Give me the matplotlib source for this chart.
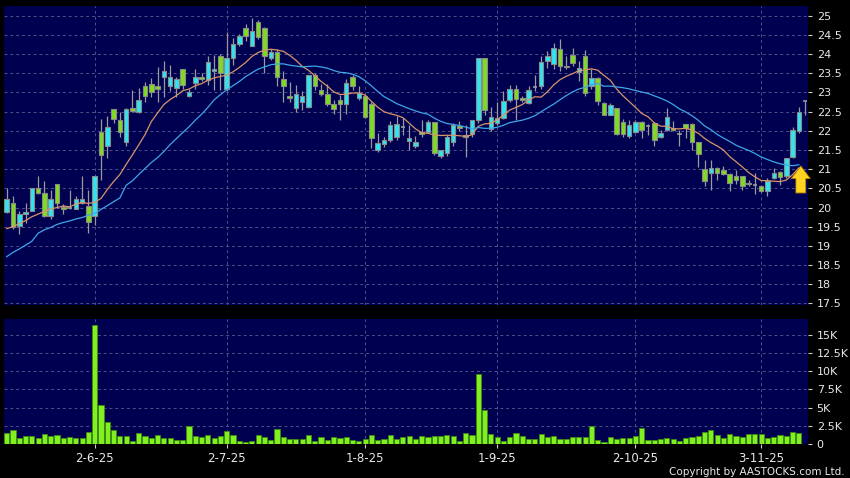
import numpy as np
import pandas as pd
import matplotlib
matplotlib.use("Agg")
import matplotlib.pyplot as plt

# daily OHLC (index 0 = first bar on the left)
opens = [19.88, 20.11, 19.52, 19.83, 19.92, 20.50, 20.39, 19.78, 20.60, 20.01,
         20.00, 19.97, 20.13, 20.04, 19.77, 21.98, 21.59, 22.57, 22.29, 21.70,
         22.60, 22.50, 23.17, 23.23, 23.17, 23.40, 23.17, 23.11, 23.61, 22.91,
         23.24, 23.39, 23.31, 23.56, 23.94, 23.10, 23.90, 24.26, 24.68, 24.22,
         24.84, 24.68, 23.90, 24.04, 23.35, 22.91, 22.59, 22.76, 22.63, 23.45,
         23.07, 22.96, 22.70, 22.81, 22.70, 23.40, 22.85, 22.91, 22.70, 21.50,
         21.65, 21.76, 21.83, 22.10, 21.74, 21.61, 21.98, 21.97, 22.22, 21.33,
         21.42, 21.70, 22.13, 21.83, 21.91, 22.29, 23.89, 22.04, 22.20, 22.33,
         22.79, 23.10, 22.85, 22.72, 23.15, 23.16, 23.81, 23.75, 24.13, 23.70,
         23.98, 23.52, 23.94, 23.16, 23.37, 22.72, 22.42, 22.59, 22.22, 21.87,
         21.98, 22.24, 22.13, 22.20, 21.83, 22.03, 22.07, 21.91, 22.18, 22.18,
         21.70, 21.00, 20.90, 21.04, 20.97, 20.87, 20.81, 20.81, 20.64, 20.58,
         20.55, 20.42, 20.77, 20.92, 20.81, 21.31, 22.00, 22.78]
highs = [20.50, 20.29, 19.90, 20.13, 20.50, 20.83, 20.70, 20.46, 20.62, 20.10,
         20.45, 20.30, 20.81, 20.46, 20.83, 22.31, 22.39, 22.57, 22.50, 22.60,
         23.07, 23.11, 23.26, 23.37, 23.66, 23.81, 23.72, 23.40, 23.61, 23.08,
         23.61, 23.50, 23.96, 23.98, 24.00, 24.57, 24.42, 24.52, 24.77, 24.94,
         24.89, 24.70, 24.13, 24.13, 23.57, 23.26, 23.20, 23.03, 23.45, 23.50,
         23.23, 23.23, 22.81, 22.94, 23.35, 23.45, 23.17, 22.95, 22.75, 21.94,
         21.85, 22.25, 22.39, 22.33, 22.16, 21.87, 22.28, 22.28, 22.24, 21.50,
         21.90, 22.20, 22.26, 22.16, 22.28, 23.90, 23.90, 22.63, 22.76, 23.03,
         23.20, 23.20, 22.90, 23.16, 23.46, 23.94, 24.07, 24.29, 24.39, 23.96,
         24.16, 23.81, 24.11, 23.61, 23.40, 22.75, 22.72, 22.60, 22.30, 22.29,
         22.29, 22.26, 22.18, 22.22, 22.03, 22.59, 22.25, 22.03, 22.18, 22.20,
         21.72, 21.24, 21.24, 21.06, 21.09, 20.90, 20.99, 20.83, 20.72, 20.90,
         20.58, 20.77, 21.03, 20.95, 21.29, 22.11, 22.63, 22.78]
lows = [19.85, 19.45, 19.31, 19.59, 19.90, 20.36, 19.76, 19.70, 20.00, 19.83,
        19.95, 19.95, 20.10, 19.33, 19.55, 20.72, 21.29, 22.20, 21.85, 21.60,
        22.48, 22.45, 22.74, 22.88, 22.74, 22.88, 23.03, 22.88, 23.10, 22.88,
        23.08, 23.30, 23.20, 23.07, 23.07, 23.03, 23.72, 24.20, 24.33, 24.20,
        24.40, 23.50, 23.85, 23.17, 22.74, 22.74, 22.50, 22.55, 22.60, 23.05,
        22.90, 22.65, 22.44, 22.29, 22.44, 23.07, 22.79, 22.33, 21.55, 21.45,
        21.57, 21.70, 21.75, 21.88, 21.50, 21.55, 21.85, 21.95, 21.37, 21.30,
        21.35, 21.60, 22.00, 21.31, 21.85, 22.20, 22.40, 22.00, 22.15, 22.30,
        22.75, 22.29, 22.75, 22.70, 23.03, 23.10, 23.63, 23.61, 23.55, 23.60,
        23.70, 23.29, 22.91, 23.10, 22.68, 22.40, 22.40, 21.90, 21.85, 21.80,
        21.95, 21.81, 21.90, 21.59, 21.80, 22.00, 22.00, 21.59, 21.81, 21.50,
        21.06, 20.55, 20.46, 20.72, 20.85, 20.44, 20.62, 20.46, 20.55, 20.35,
        20.40, 20.30, 20.75, 20.59, 20.78, 21.28, 21.95, 22.42]
closes = [20.22, 19.50, 19.82, 19.89, 20.50, 20.39, 19.78, 20.23, 20.11, 19.96,
          20.00, 20.23, 20.23, 19.63, 20.83, 21.37, 22.10, 22.30, 21.96, 22.57,
          22.52, 22.81, 22.91, 23.01, 23.10, 23.57, 23.39, 23.35, 23.19, 23.02,
          23.39, 23.35, 23.80, 23.61, 23.50, 23.90, 24.26, 24.48, 24.48, 24.59,
          24.44, 23.94, 24.04, 23.40, 23.17, 22.86, 22.96, 22.91, 23.45, 23.17,
          22.96, 22.70, 22.57, 22.70, 23.24, 23.17, 22.98, 22.36, 21.81, 21.68,
          21.76, 22.16, 22.17, 22.10, 21.81, 21.70, 21.92, 22.22, 21.42, 21.50,
          21.83, 22.14, 22.07, 21.90, 22.27, 23.89, 22.55, 22.37, 22.33, 22.77,
          23.10, 22.83, 22.81, 23.07, 23.15, 23.78, 23.94, 24.16, 23.70, 23.66,
          23.77, 23.63, 22.98, 23.37, 22.78, 22.42, 22.68, 21.92, 21.92, 22.16,
          22.24, 22.03, 22.13, 21.77, 21.94, 22.37, 22.03, 21.91, 22.07, 21.70,
          21.39, 20.70, 21.04, 20.90, 20.88, 20.63, 20.72, 20.55, 20.60, 20.58,
          20.42, 20.68, 20.90, 20.79, 21.29, 22.03, 22.50, 22.78]

# volume in thousands of shares
volume = [1.56, 1.88, 0.83, 1.05, 1.05, 0.83, 1.33, 1.10, 1.28, 0.78,
          1.00, 0.87, 0.83, 1.70, 16.3, 5.32, 3.07, 1.88, 1.15, 1.15,
          0.41, 1.51, 1.15, 0.78, 1.24, 0.78, 0.87, 0.50, 0.55, 2.48,
          1.05, 0.92, 1.19, 0.78, 1.15, 1.83, 1.24, 0.46, 0.23, 0.37,
          1.19, 0.96, 0.50, 2.06, 0.96, 0.64, 0.69, 0.69, 1.19, 0.46,
          0.92, 0.60, 0.96, 0.78, 0.92, 0.60, 0.46, 0.69, 1.19, 0.55,
          0.73, 1.28, 0.64, 0.96, 1.10, 0.69, 1.10, 1.00, 1.05, 1.05,
          1.19, 1.10, 0.37, 1.51, 1.19, 9.60, 4.60, 1.38, 1.00, 0.46,
          1.00, 1.47, 1.10, 0.69, 0.69, 1.38, 1.00, 1.10, 0.64, 0.73,
          1.00, 0.92, 1.00, 2.52, 0.55, 0.28, 0.92, 0.73, 0.83, 0.83,
          1.10, 2.16, 0.50, 0.50, 0.64, 0.83, 0.64, 0.46, 0.83, 0.92,
          1.15, 1.70, 1.88, 1.28, 0.78, 1.33, 1.05, 0.96, 1.42, 1.42,
          1.33, 0.78, 1.00, 1.28, 1.05, 1.60, 1.56, 0.0]

# moving-average values before enough bars exist
ma10_head = [19.45, 19.50, 19.58, 19.66, 19.76, 19.83, 19.90, 19.96, 20.00]
ma20_head = [18.72, 18.83, 18.92, 19.02, 19.12, 19.33, 19.42, 19.48, 19.56, 19.61,
             19.65, 19.70, 19.74, 19.80, 19.85, 19.95, 20.05, 20.15, 20.25]

date_pos = [14, 35, 57, 78, 100, 120]
date_labels = ["2-6-25", "2-7-25", "1-8-25", "1-9-25", "2-10-25", "3-11-25"]
price_ticks = [17.5, 18, 18.5, 19, 19.5, 20, 20.5, 21, 21.5, 22, 22.5, 23, 23.5, 24, 24.5, 25]
vol_ticks = [0, 2.5, 5, 7.5, 10, 12.5, 15]
vol_labels = ["0", "2.5K", "5K", "7.5K", "10K", "12.5K", "15K"]

df = pd.DataFrame({"o": opens, "h": highs, "l": lows, "c": closes, "v": volume})
x = np.arange(len(df))
ma10 = df["c"].rolling(10).mean().to_numpy()
ma10[:len(ma10_head)] = ma10_head
ma20 = df["c"].rolling(20).mean().to_numpy()
ma20[:len(ma20_head)] = ma20_head

bg = "#000050"
grid_col = "#50508a"
txt = "#e8e8e8"
up_col = "#30e4f0"
dn_col = "#7ddc1f"
edge = "#8a8a8a"

fig = plt.figure(figsize=(8.5, 4.78), dpi=100, facecolor="black")
ax = fig.add_axes([0.0047, 0.3619, 0.9463, 0.6255])
axv = fig.add_axes([0.0047, 0.0711, 0.9463, 0.2615], sharex=ax)

for a in (ax, axv):
    a.set_facecolor(bg)
    for s in a.spines.values():
        s.set_visible(False)
    a.yaxis.tick_right()
    a.tick_params(axis="y", colors="#cccccc", labelcolor=txt, length=3, width=0.8, pad=3, labelsize=8)
    a.grid(True, color=grid_col, linestyle=(0, (3, 3)), linewidth=0.7)
    a.set_axisbelow(True)

# candles
up = df["c"] > df["o"]
dn = df["c"] < df["o"]
flat = df["c"] == df["o"]
ax.vlines(x, df["l"], df["h"], color="#9a9a9a", linewidth=0.9, zorder=2)
ax.bar(x[up], (df["c"] - df["o"])[up], bottom=df["o"][up], width=0.72,
       color=up_col, edgecolor=edge, linewidth=0.8, zorder=3)
ax.bar(x[dn], (df["o"] - df["c"])[dn], bottom=df["c"][dn], width=0.72,
       color=dn_col, edgecolor=edge, linewidth=0.8, zorder=3)
ax.hlines(df["c"][flat], x[flat] - 0.36, x[flat] + 0.36, color="#9a9a9a", linewidth=1.2, zorder=3)

ax.plot(x[:-1], ma10[:-1], color="#d8956a", linewidth=0.9, zorder=4)
ax.plot(x[:-1], ma20[:-1], color="#3fa6e8", linewidth=0.9, zorder=4)

# yellow arrow at the last bar
ax.annotate("", xy=(126.3, 21.08), xytext=(126.3, 20.38),
            arrowprops=dict(arrowstyle="simple,head_length=0.9,head_width=1.35,tail_width=0.7",
                            fc="#ffd320", ec="#c08a00", lw=0.6, shrinkA=0, shrinkB=0), zorder=6)

ax.set_ylim(17.46, 25.25)
ax.set_yticks(price_ticks)
ax.set_yticklabels(["%g" % t for t in price_ticks])
ax.set_xlim(-0.43, 127.5)
ax.set_xticks(date_pos)
ax.tick_params(axis="x", length=0, labelbottom=False)

# volume
axv.bar(x, df["v"], width=0.82, color="#80f020", edgecolor="#3f8a10", linewidth=0.6, zorder=3)
axv.set_ylim(0, 17.15)
axv.set_yticks(vol_ticks)
axv.set_yticklabels(vol_labels)
axv.set_xticks(date_pos)
axv.set_xticklabels(date_labels)
axv.tick_params(axis="x", colors="#cccccc", labelcolor=txt, length=3, width=0.8, pad=3, labelsize=8.5)

fig.text(0.994, 0.0135, "Copyright by AASTOCKS.com Ltd.", color=txt, fontsize=7.5,
         ha="right", va="center")

fig.savefig("out.png", dpi=100, facecolor="black")
